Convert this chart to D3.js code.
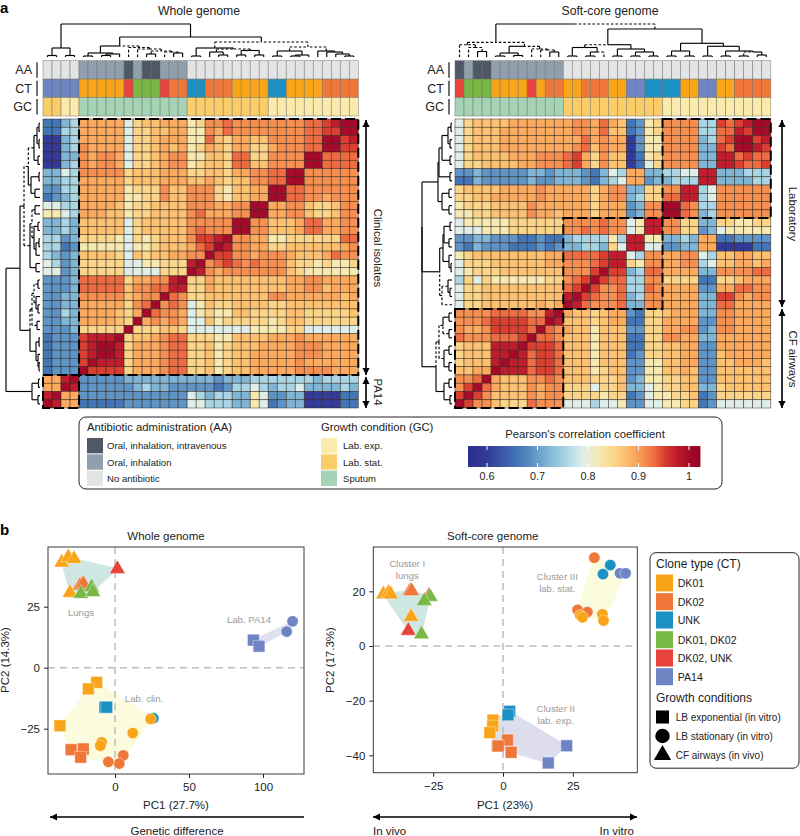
<!DOCTYPE html>
<html><head><meta charset="utf-8">
<script src="https://cdn.jsdelivr.net/npm/d3@7/dist/d3.min.js"></script>
<style>
html,body{margin:0;padding:0;background:#fff}
svg{display:block}
text{font-family:"Liberation Sans",Arial,sans-serif;fill:#222}
</style></head><body>
<svg id="c" width="800" height="836"></svg>
<script>
/* ---------- correlation levels: letter -> Pearson value ---------- */
const levelKeys = "abcdefghijklmno".split("");
const levelValues = [0.60,0.66,0.69,0.72,0.755,0.79,0.82,0.85,0.87,0.89,0.91,0.93,0.95,0.975,1.0];
const colorStops = [0.56,0.60,0.66,0.69,0.72,0.755,0.79,0.82,0.85,0.87,0.89,0.91,0.93,0.95,0.975,1.0,1.03];
const colorRamp = ["#2b2d8c","#333b98","#4376b6","#5e94c6","#80b5d6","#a9d5e5","#e0eeea","#f6eab2","#fbd68a","#fcc272","#fbaa60","#f68f52","#ee6c43","#da3f31","#bf1d2d","#a50a2a","#8f0024"];

/* upper-left triangles, row by row (top to bottom); the rest mirrors across the anti-diagonal */
const whole = [
"bbdejjjjjfhiijjjghkklkkkkkkkkllmnoo",
"bbeejjjjjfhhiijjggkjlkkkkkkkkllmmo",
"aadejjjjjfhhijjjgglihjjiikkkklloo",
"aadekjjjjfhhijijghjihjjhhjkkkllo",
"aaddkjkkjfhhijkkggiihllhhkkkkoo",
"aadekjkkjfhhijkkghiihlliikkkko",
"ddfekkkkkhiiijjjhhiihjjkklloo",
"ddeejjjjjhiiijjjiijihiikkllo",
"cceejjjjjghhhkiikkkhgiijjoo",
"bcdejjjjjgghhkiikkkhgiijjo",
"ffeejjjjighhiiiikkkjjkkoo",
"ggfejjjiighhiiiikljjjkko",
"ddediiiiifhiiiiikkkkkoo",
"ddediiiiifhiiiiiklkkko",
"eecdhhhhgfhghiiikmmno",
"eebcgggggfgghiiijlmo",
"edcdiiiihfihiijjkko",
"fecdhhhhhffgghhhno",
"ffcdhhhhhffffhhho",
"cccdlllllhjjkkno",
"cccdlllllikklln",
"ccddkkkkkijkko",
"ccddjjjjjhklo",
"ccedjjjjihjo",
"ccddjjjjiho",
"cccdhhhhho",
"bcccmnnno",
"bcccmnoo",
"bcccmno",
"bcccmo",
"bccco",
"jjno","jjo","no","o"];

const soft = [
"fhiiiijjjjjj"+"jkkjl"+"ji"+"bc"+"gh"+"kkkk"+"ee"+"ml"+"mn"+"oo",
"fhiiijjjjjjj"+"jkkjl"+"ii"+"bc"+"gh"+"kkkk"+"ee"+"ll"+"nm"+"o",
"fhiiijjjjjjj"+"jjljk"+"jj"+"ac"+"gg"+"kkkk"+"de"+"lm"+"oo",
"fhiiijjjjjjj"+"jklik"+"jj"+"ac"+"gg"+"kkkk"+"dd"+"ml"+"o",
"fhiiiijjjkkk"+"lmjhk"+"ii"+"ab"+"gh"+"kkkk"+"dd"+"nn",
"fhhiiiijjkkk"+"lmjhk"+"ii"+"ab"+"fh"+"kkkk"+"dd"+"n",
"ccdcccccddcd"+"ddcbd"+"fe"+"jj"+"dd"+"eeff"+"nn",
"bbdcccccdccd"+"ddcbd"+"ef"+"jj"+"cd"+"deee"+"n",
"hiiiijjjjkjj"+"jjjhj"+"kk"+"dd"+"hh"+"kk"+"nn",
"hhiijjjjjkjj"+"jjjhj"+"kk"+"de"+"hh"+"ll"+"n",
"ghhhiiiikjjj"+"jjjhj"+"jj"+"cd"+"kk"+"oo",
"gghhiiiikjji"+"jjjhj"+"jj"+"cd"+"kk"+"o",
"fggggghhhhhh"+"kkkkl"+"kk"+"fg"+"nn",
"fffggghhhhhh"+"kklkl"+"kk"+"fg"+"n",
"ccddcccbbcbb"+"deeee"+"ge"+"nn",
"cbdcccbbbcbc"+"ddeed"+"hf"+"n",
"ghiiiiiiiijj"+"llllm"+"nn",
"fhhhiiiiiijj"+"kkklm"+"n",
"fghhhiiiiiii"+"kkkmo",
"ehfhgggggghh"+"klmo",
"fhhiiiiiiiii"+"lmo",
"fhhiiiiiiiii"+"no",
"fhhiiiiiijij"+"o",
"kkkkllllkkno",
"kkklmmmmllo",
"kjjkmmmmlo",
"lkkklllmo",
"hiiinnno",
"hiiinno",
"hiiino",
"iijjo",
"kklo","kmo","mo","o"];

/* ---------- annotation tracks ---------- */
const aaWhole = "LLLLMMMMMDMDDMMMLLLLLLLLLLLLLLLLLLL".split("");
const ctWhole = "PPPPAAAAARGGGRBBUUBBBAAAAUUAAAABBBB".split("");
const gcWhole = "TTEESSSSSSSSSSSSTTTTTTTTTEEEEEEEEEE".split("");
const aaSoft  = "DMDDMMMMMMMMLLLLLLLLLLLLLLLLLLLLLLL".split("");
const ctSoft  = "RGGGAAAARABBAABBBAAPPUUUUAAPPAABBBB".split("");
const gcSoft  = "SSSSSSSSSSSSTTTTTTTTTTTEEEEEEEEEEEE".split("");
const cloneNames = ["DK01","DK02","UNK","DK01, DK02","DK02, UNK","PA14"];
const cloneColors = {A:"#f9a51a",B:"#ee7739",U:"#1b90c2",G:"#78b844",R:"#e8433a",P:"#6f84c2"};
const aaColors = {D:"#4e5867",M:"#909fae",L:"#e3e4e6"};
const gcColors = {E:"#faeaab",T:"#fbcd69",S:"#a4d4b5"};

/* ---------- dendrograms: [height, childA, childB, dashFlag(1=A,2=B,3=both)], numbers are leaves ---------- */
const treeWholeTop = [33,
  [9,[1.5,0,1],[1.5,2,3]],
  [20,
    [11,[4,[1,4,5],[3,[1.5,6,7],8]],[9.5,9,[8,10,[6,[3,11,12],[5,13,[4,14,15],3],3],3],3],2],
    [15,
      [9,[1,16,17],[8,[5,18,[2,19,20]],[6.5,[2,21,22],[2,23,24]],3]],
      [10,[6,[1,25,26],[2,[1,27,28],29]],[6,30,[5,31,[3,32,[1,33,34]]]],3],3]]];
const treeSoftTop = [33,
  [14.7,[12.3,0,[9.5,1,[5.5,2,3],3],3],[10.7,[4,[1,4,5],[1.5,6,7]],[8,8,[7,9,[5,10,11],3],3],2],3],
  [28,
    [12.3,[9.5,[1,12,13],[5,[1,14,15],16,2]],[8,[1,17,18],[5,[1,19,20],[1,21,22]]],1],
    [13.7,[6,[1,23,24],[1,25,26]],[10.7,[1,27,28],[6,[1,29,30],[5,[1,31,32],[2,33,34],1]]]]],2];
const treeWholeSide = [34,
  [20,
    [16,[11.7,[6,[3,[1,0,1],[1,2,3]],[2,4,5]],[9,[1,6,7],[5,8,9]],1],
        [10,[8,[5,10,11],[6,[2,12,13],[4,[1,14,15],16]],3],[4,17,18]],3],
    [10,[8,[6,[2,19,20],[4,21,[2,22,23]],3],[3,24,25],3],[4,[1,26,27],[2,28,[1,29,30]]],1]],
  [8,[1.5,31,32],[2,33,34]]];
const treeSoftSide = [30,
  [30,
    [14,[13,[10,[4,[1,0,1],[2,2,3]],[2,4,5]],[2,6,7]],[10,[3,8,9],[3,10,11]]],
    [12.3,[9,[8,[2,12,13],[3,14,15]],[3,16,[1,17,18]]],[10,[4,19,[2,20,21]],22,3],2]],
  [16,[13,[9,[3,23,24],[3,25,26],2],[8,[3,27,28],[3,29,30]],3],[8,[3,31,32],[2,33,34]],1]];

/* ---------- PCA points: [PC1, PC2, clone, shape, hull group] ---------- */
const pcaWhole = [
[-23.6,33.7,"B","t","a"],[-21.4,34.4,"B","t","a"],[-36,43.1,"A","t","a"],[-31.5,45.3,"A","t","a"],[-27.7,44.6,"A","t","a"],
[-30.4,30.7,"A","t","a"],[-23,30.3,"G","t","a"],[-15.8,33,"G","t","a"],[-15,31,"G","t","a"],[1.6,40.5,"R","t","a"],
[-12.4,-6,"A","s","b"],[-18,-8.7,"A","s","b"],[-37.2,-23.8,"A","s","b"],[-6.8,-16.2,"U","s","b"],[-5.6,-16.2,"U","s","b"],
[-29.7,-33.6,"B","s","b"],[-21.4,-33.3,"B","s","b"],[-23.2,-36.7,"B","s","b"],
[25.9,-20.7,"U","c","b"],[24.1,-21,"A","c","b"],[12,-26.8,"A","c","b"],[-9,-30.6,"A","c","b"],[-9.9,-32,"A","c","b"],
[5.6,-35.9,"B","c","b"],[2.9,-39.3,"B","c","b"],[-4.5,-38.6,"B","c","b"],
[93.5,11.3,"P","s","c"],[97.3,8.8,"P","s","c"],[116,14.8,"P","c","c"],[120,19,"P","c","c"]];
const pcaSoft = [
[-33.3,20.1,"B","t","a"],[-32.7,20.1,"B","t","a"],[-42.8,18.9,"A","t","a"],[-41,19.5,"A","t","a"],[-40.2,18.9,"A","t","a"],
[-32.9,10.7,"A","t","a"],[-26.5,18.3,"R","t","a"],[-26.1,18,"G","t","a"],[-28.2,16.5,"G","t","a"],[-29.2,4.3,"G","t","a"],[-33.9,5.6,"R","t","a"],
[32.7,32.3,"B","c","b"],[38.4,29.6,"U","c","b"],[35.8,26.3,"U","c","b"],[41.9,26.6,"P","c","b"],[43.9,26.6,"P","c","b"],
[26.7,13.2,"B","c","b"],[30.2,12.4,"B","c","b"],[27.6,11.3,"A","c","b"],[28.5,10.5,"A","c","b"],[35.6,11.6,"A","c","b"],[36,9.3,"A","c","b"],
[2.4,-23.9,"U","s","c"],[1.8,-25.2,"U","s","c"],[-3.6,-27.1,"A","s","c"],[-3.7,-29.3,"A","s","c"],[-4.7,-31.7,"A","s","c"],
[1.6,-34.4,"B","s","c"],[-2,-36.5,"B","s","c"],[-1.7,-36.6,"B","s","c"],[2.9,-38.9,"B","s","c"],[22.8,-36.5,"P","s","c"],[16.2,-42.8,"P","s","c"]];
const hullColorsWhole = {a:"#cfe7e2",b:"#fbfbdd",c:"#dfe1f0"};
const hullColorsSoft = {a:"#cfe7e2",b:"#fbfbdd",c:"#dedded"};

/* ---------- legend ---------- */
const aaLegend = [["Oral, inhalation, intravenous","D"],["Oral, inhalation","M"],["No antibiotic","L"]];
const gcLegend = [["Lab. exp.","E"],["Lab. stat.","T"],["Sputum","S"]];
const cbTicks = [0.6,0.7,0.8,0.9,1];
const growthLegend = [["LB exponential (in vitro)","s"],["LB stationary (in vitro)","c"],["CF airways (in vivo)","t"]];

/* ---------- helpers ---------- */
const svg = d3.select("#c");
const N = 35, idx = d3.range(N);
const levelOf = new Map(levelKeys.map((k,i)=>[k,levelValues[i]]));
const color = d3.scaleLinear().domain(colorStops).range(colorRamp).clamp(true);

function expand(rows){
  rows.forEach((s,r)=>{ if(s.length!==N-r) throw new Error("row "+r+" has "+s.length+" want "+(N-r)); });
  const m = idx.map(()=>new Array(N));
  rows.forEach((s,r)=>{ for(let c=0;c<N-r;c++){ const v=levelOf.get(s[c]); m[r][c]=v; m[N-1-c][N-1-r]=v; } });
  return m;
}
function text(g,x,y,t,o={}){
  const el=g.append("text").attr("x",x).attr("y",y).text(t)
    .attr("font-size",o.size||11).attr("text-anchor",o.anchor||"start");
  if(o.weight) el.attr("font-weight",o.weight);
  if(o.fill) el.style("fill",o.fill);
  if(o.rotate!=null) el.attr("transform",`rotate(${o.rotate} ${x} ${y})`);
  return el;
}
function collect(node,pos,out){
  if(typeof node==="number") return {p:pos(node),h:0};
  const a=collect(node[1],pos,out), b=collect(node[2],pos,out), f=node[3]||0, h=node[0], m=(a.p+b.p)/2;
  out.push({p0:a.p,h0:a.h,p1:a.p,h1:h,dash:!!(f&1)},{p0:a.p,h0:h,p1:m,h1:h,dash:!!(f&1)});
  out.push({p0:b.p,h0:b.h,p1:b.p,h1:h,dash:!!(f&2)},{p0:b.p,h0:h,p1:m,h1:h,dash:!!(f&2)});
  return {p:m,h};
}
function heatmap(g,cfg){
  const x=d3.scaleBand().domain(idx).range(cfg.xr), y=d3.scaleBand().domain(idx).range(cfg.yr);
  const m=expand(cfg.rows);
  const cells=idx.flatMap(r=>idx.map(c=>({r,c,v:m[r][c]})));
  g.append("g").selectAll("rect").data(cells).join("rect")
    .attr("x",d=>x(d.c)).attr("y",d=>y(d.r)).attr("width",x.bandwidth()).attr("height",y.bandwidth())
    .attr("fill",d=>color(d.v)).attr("stroke","#2e2218").attr("stroke-opacity",.8).attr("stroke-width",.6);
  const ty=d3.scaleBand().domain([0,1,2]).range([60.7,116]);
  const tracks=[[cfg.aa,aaColors,"AA"],[cfg.ct,cloneColors,"CT"],[cfg.gc,gcColors,"GC"]];
  tracks.forEach(([vals,pal,lab],i)=>{
    g.append("g").selectAll("rect").data(vals).join("rect")
      .attr("x",(d,k)=>x(k)).attr("y",ty(i)).attr("width",x.bandwidth()).attr("height",ty.bandwidth())
      .attr("fill",d=>pal[d]).attr("stroke","#6b6b60").attr("stroke-opacity",.75).attr("stroke-width",.6);
    text(g,cfg.xr[0]-11,ty(i)+ty.bandwidth()/2+4.5,lab,{anchor:"end",size:12.5});
    g.append("line").attr("x1",cfg.xr[0]-6).attr("x2",cfg.xr[0]-6)
      .attr("y1",ty(i)+1.5).attr("y2",ty(i)+ty.bandwidth()-1.5).attr("stroke","#111").attr("stroke-width",1.2);
  });
  const top=d3.scaleLinear().domain([0,34]).range([57,23]);
  const side=d3.scaleLinear().domain([0,34]).range([cfg.xr[0]-3,cfg.xr[0]-37]);
  const segT=[],segS=[];
  collect(cfg.treeTop,k=>x(k)+x.bandwidth()/2,segT);
  collect(cfg.treeSide,k=>y(k)+y.bandwidth()/2,segS);
  const st=s=>s.attr("stroke","#000").attr("stroke-width",1.15).attr("fill","none")
    .attr("stroke-dasharray",d=>d.dash?"2.6 2":null);
  g.append("g").selectAll("line").data(segT).join("line")
    .attr("x1",d=>d.p0).attr("x2",d=>d.p1).attr("y1",d=>top(d.h0)).attr("y2",d=>top(d.h1)).call(st);
  g.append("g").selectAll("line").data(segS).join("line")
    .attr("y1",d=>d.p0).attr("y2",d=>d.p1).attr("x1",d=>side(d.h0)).attr("x2",d=>side(d.h1)).call(st);
  g.append("g").selectAll("rect").data(cfg.boxes).join("rect")
    .attr("x",d=>x(d[0])).attr("y",d=>y(d[2]))
    .attr("width",d=>x(d[1])+x.bandwidth()-x(d[0])).attr("height",d=>y(d[3])+y.bandwidth()-y(d[2]))
    .attr("fill","none").attr("stroke","#000").attr("stroke-width",2).attr("stroke-dasharray","10 4");
  return {x,y};
}
function arrow(g,x1,y1,x2,y2,both,w=1.6){
  const a=Math.atan2(y2-y1,x2-x1), L=7, W=3.6;
  const head=(px,py,an)=>{const bx=px-L*Math.cos(an),by=py-L*Math.sin(an),nx=-Math.sin(an)*W,ny=Math.cos(an)*W;
    g.append("path").attr("d",`M${px},${py}L${bx+nx},${by+ny}L${bx-nx},${by-ny}Z`).attr("fill","#000");};
  g.append("line").attr("x1",x1).attr("y1",y1).attr("x2",x2).attr("y2",y2).attr("stroke","#000").attr("stroke-width",w);
  head(x2,y2,a); if(both) head(x1,y1,a+Math.PI);
}
const symType={s:d3.symbolSquare,c:d3.symbolCircle,t:d3.symbolTriangle};
const symSize={s:138,c:100,t:105};
function pca(g,cfg){
  const x=d3.scaleLinear().domain(cfg.xd).range(cfg.xr), y=d3.scaleLinear().domain(cfg.yd).range(cfg.yr);
  d3.group(cfg.pts,d=>d[4]).forEach((pts,k)=>{
    const h=d3.polygonHull(pts.map(d=>[x(d[0]),y(d[1])]));
    g.append("path").attr("d","M"+h.join("L")+"Z").attr("fill",cfg.hulls[k]).attr("stroke",cfg.hulls[k]).attr("stroke-width",1);
  });
  const dash=s=>s.attr("stroke","#bdbdbd").attr("stroke-width",1.5).attr("stroke-dasharray","7 5");
  g.append("line").attr("x1",x(0)).attr("x2",x(0)).attr("y1",cfg.yr[1]).attr("y2",cfg.yr[0]).call(dash);
  g.append("line").attr("x1",cfg.xr[0]).attr("x2",cfg.xr[1]).attr("y1",y(0)).attr("y2",y(0)).call(dash);
  g.append("g").selectAll("path").data(cfg.pts).join("path")
    .attr("transform",d=>`translate(${x(d[0])},${y(d[1])})`)
    .attr("d",d=>d3.symbol().type(symType[d[3]]).size(symSize[d[3]])())
    .attr("fill",d=>cloneColors[d[2]]).attr("stroke","#fff").attr("stroke-opacity",.65).attr("stroke-width",.6);
  g.append("rect").attr("x",cfg.xr[0]).attr("y",cfg.yr[1]).attr("width",cfg.xr[1]-cfg.xr[0]).attr("height",cfg.yr[0]-cfg.yr[1])
    .attr("fill","none").attr("stroke","#3c3c3c").attr("stroke-width",1);
  const ax=d3.axisBottom(x).tickValues(cfg.xt).tickSize(4).tickPadding(5);
  const ay=d3.axisLeft(y).tickValues(cfg.yt).tickSize(4).tickPadding(4);
  const gx=g.append("g").attr("transform",`translate(0,${cfg.yr[0]})`).call(ax);
  const gy=g.append("g").attr("transform",`translate(${cfg.xr[0]},0)`).call(ay);
  [gx,gy].forEach(a=>{a.select(".domain").remove();a.selectAll("line").attr("stroke","#222").attr("stroke-width",1);
    a.selectAll("text").attr("font-size",11.5).style("font-family",'"Liberation Sans",Arial,sans-serif');});
}

/* ---------- panel a ---------- */
text(svg,0,13,"a",{size:15,weight:"bold"}).style("fill","#000");
text(svg,199,15,"Whole genome",{anchor:"middle",size:12.2});
text(svg,610,15,"Soft-core genome",{anchor:"middle",size:12.2});
heatmap(svg.append("g"),{xr:[43,358.3],yr:[119,408],rows:whole,aa:aaWhole,ct:ctWhole,gc:gcWhole,
  treeTop:treeWholeTop,treeSide:treeWholeSide,boxes:[[4,34,0,30],[0,3,31,34]]});
heatmap(svg.append("g"),{xr:[455,770.8],yr:[119,408],rows:soft,aa:aaSoft,ct:ctSoft,gc:gcSoft,
  treeTop:treeSoftTop,treeSide:treeSoftSide,boxes:[[23,34,0,11],[12,22,12,22],[0,11,23,34]]});
const ann=svg.append("g");
arrow(ann,366,120,366,375,true); arrow(ann,366,377,366,408,true);
arrow(ann,782,120,782,307,true); arrow(ann,782,309,782,408,true);
text(ann,374,248,"Clinical isolates",{anchor:"middle",size:11.4,rotate:90});
text(ann,374,392,"PA14",{anchor:"middle",size:11.4,rotate:90});
text(ann,789,214,"Laboratory",{anchor:"middle",size:11.4,rotate:90});
text(ann,789,359,"CF airways",{anchor:"middle",size:11.4,rotate:90});

/* legend a */
const la=svg.append("g");
la.append("rect").attr("x",79).attr("y",417).attr("width",643).attr("height",72).attr("rx",7)
  .attr("fill","#fff").attr("stroke","#222").attr("stroke-width",1);
text(la,87,431,"Antibiotic administration (AA)",{size:11.3});
text(la,321,431,"Growth condition (GC)",{size:11.3});
const legendCol=(x,items,pal,tx)=>{
  const sy=d3.scaleBand().domain(d3.range(3)).range([438,487]);
  items.forEach(([t,k],i)=>{
    la.append("rect").attr("x",x).attr("y",sy(i)).attr("width",16).attr("height",sy.bandwidth()-1).attr("fill",pal[k]);
    text(la,tx,sy(i)+sy.bandwidth()/2+3,t,{size:9.6});
  });
};
legendCol(87,aaLegend,aaColors,107);
legendCol(321,gcLegend,gcColors,343);
text(la,585,438,"Pearson's correlation coefficient",{anchor:"middle",size:11.3});
const cb=d3.scaleLinear().domain([0.6,1]).range([487,689]);
const cbRange=[468,700];
const cbVals=d3.range(cbRange[0],cbRange[1],1);
la.append("g").selectAll("rect").data(cbVals).join("rect")
  .attr("x",d=>d).attr("y",446).attr("width",1.4).attr("height",21).attr("fill",d=>color(cb.invert(d)));
cbTicks.forEach(t=>{
  la.append("line").attr("x1",cb(t)).attr("x2",cb(t)).attr("y1",446).attr("y2",450).attr("stroke","#fff");
  la.append("line").attr("x1",cb(t)).attr("x2",cb(t)).attr("y1",463).attr("y2",467).attr("stroke","#fff");
  text(la,cb(t),480,d3.format("~g")(t),{anchor:"middle",size:10.8});
});

/* ---------- panel b ---------- */
text(svg,0,535,"b",{size:15,weight:"bold"}).style("fill","#000");
text(svg,166,540,"Whole genome",{anchor:"middle",size:11.5});
text(svg,492.7,540,"Soft-core genome",{anchor:"middle",size:11.5});
pca(svg.append("g"),{pts:pcaWhole,hulls:hullColorsWhole,
  xr:[48,304],xd:[(48-115)/1.48,(304-115)/1.48],yr:[774,547],yd:[(667.7-774)/2.44,(667.7-547)/2.44],
  xt:[0,50,100],yt:[-25,0,25]});
pca(svg.append("g"),{pts:pcaSoft,hulls:hullColorsSoft,
  xr:[373.3,637.3],xd:[(373.3-503)/2.793,(637.3-503)/2.793],yr:[772.7,547],yd:[(646-772.7)/2.733,(646-547)/2.733],
  xt:[-25,0,25],yt:[-40,-20,0,20]});
const pb=svg.append("g");
const grey={anchor:"middle",size:9.6,fill:"#9a9a9a"};
text(pb,81,616,"Lungs",grey);
text(pb,144,702,"Lab. clin.",grey);
text(pb,249,623,"Lab. PA14",grey);
text(pb,407.3,566.5,"Cluster I",grey); text(pb,407.3,578.5,"lungs",grey);
text(pb,557.3,580,"Cluster III",grey); text(pb,557.3,592,"lab. stat.",grey);
text(pb,555.7,712,"Cluster II",grey); text(pb,555.7,724,"lab. exp.",grey);
text(pb,176,809,"PC1 (27.7%)",{anchor:"middle",size:11.5});
text(pb,505,809,"PC1 (23%)",{anchor:"middle",size:11.5});
text(pb,9,660,"PC2 (14.3%)",{anchor:"middle",size:11.5,rotate:-90});
text(pb,334,660,"PC2 (17.3%)",{anchor:"middle",size:11.5,rotate:-90});
arrow(pb,304,817,50,817,false);
arrow(pb,373,817,637,817,true);
text(pb,177,835,"Genetic difference",{anchor:"middle",size:11.5});
text(pb,373,835,"In vivo",{size:11.5});
text(pb,634,835,"In vitro",{anchor:"end",size:11.5});

/* legend b */
const lb=svg.append("g");
lb.append("rect").attr("x",650).attr("y",552.7).attr("width",149).attr("height",215.5).attr("rx",6)
  .attr("fill","#fff").attr("stroke","#222").attr("stroke-width",1);
text(lb,656,568,"Clone type (CT)",{size:12});
const cloneKeys=["A","B","U","G","R","P"];
const cy=[583,601.7,620,639.7,658,676.7];
cloneKeys.forEach((k,i)=>{
  lb.append("rect").attr("x",656).attr("y",cy[i]-8.5).attr("width",17).attr("height",17).attr("fill",cloneColors[k]);
  text(lb,677.7,cy[i]+4,cloneNames[i],{size:10.6});
});
text(lb,656,702,"Growth conditions",{size:12});
const gy=[717,736,755];
growthLegend.forEach(([t,s],i)=>{
  lb.append("path").attr("transform",`translate(662.5,${gy[i]})`)
    .attr("d",d3.symbol().type(symType[s]).size(s==="t"?130:s==="s"?170:165)()).attr("fill","#000");
  text(lb,675.7,gy[i]+3.5,t,{size:10});
});
</script>
</body></html>
